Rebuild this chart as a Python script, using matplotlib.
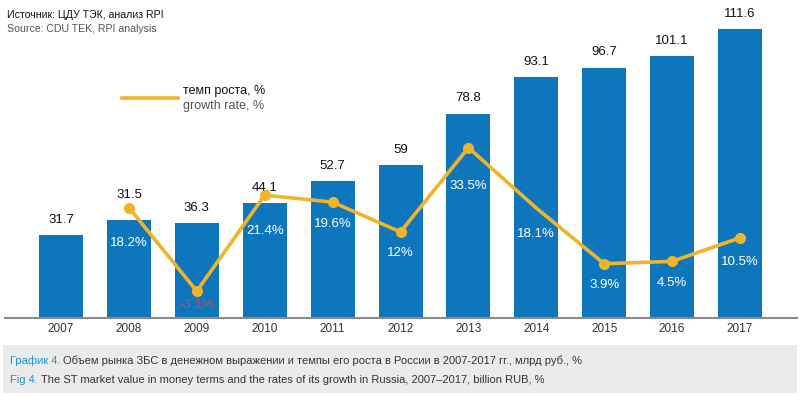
import matplotlib
matplotlib.use("Agg")
import matplotlib.pyplot as plt
from matplotlib.patches import Rectangle
from matplotlib.lines import Line2D

years = ["2007", "2008", "2009", "2010", "2011", "2012", "2013", "2014", "2015", "2016", "2017"]
market_value = [31.7, 37.5, 36.3, 44.1, 52.7, 59.0, 78.8, 93.1, 96.7, 101.1, 111.6]
value_labels = ["31.7", "31.5", "36.3", "44.1", "52.7", "59", "78.8", "93.1", "96.7", "101.1", "111.6"]
growth_years = ["2008", "2009", "2010", "2011", "2012", "2013", "2014", "2015", "2016", "2017"]
growth_rate = [18.2, -3.1, 21.4, 19.6, 12.0, 33.5, 18.1, 3.9, 4.5, 10.5]
growth_labels = ["18.2%", "-3.1%", "21.4%", "19.6%", "12%", "33.5%", "18.1%", "3.9%", "4.5%", "10.5%"]

BLUE = "#0e76bd"
ORANGE = "#f0b429"
FONT = ["Liberation Sans", "DejaVu Sans"]
plt.rcParams["font.family"] = FONT

W, H = 800, 396
fig = plt.figure(figsize=(W / 100, H / 100), dpi=100)

def fy(py):
    return 1 - py / H

base_px = 317
ax = fig.add_axes([0, fy(base_px), 1, base_px / H])
pitch = 67.9
x0 = 61
ax.set_xlim(-x0 / pitch, (W - x0) / pitch)
bar_scale = 2.58
ax.set_ylim(0, base_px / bar_scale)
ax.axis("off")

xs = list(range(len(years)))
ax.bar(xs, market_value, width=44 / pitch, color=BLUE, zorder=2)

# value labels above bars
for i, (v, lab) in enumerate(zip(market_value, value_labels)):
    extra = 7 if lab == "31.5" else 0
    ax.annotate(lab, (i, v), xytext=(0, 11 + extra), textcoords="offset points",
                ha="center", va="center", fontsize=9.5, color="#111111")

# line on twin axis
ax2 = fig.add_axes(ax.get_position(), sharex=ax)
ax2.patch.set_visible(False)
ax2.axis("off")
zero_px = 279
lscale = 3.92
ax2.set_ylim((zero_px - base_px) / lscale, zero_px / lscale)
gx = [years.index(y) for y in growth_years]
marks = [k for k, y in enumerate(growth_years) if y != "2014"]
ax2.plot(gx, growth_rate, color=ORANGE, lw=2.6, marker="o", ms=7,
         markevery=marks, zorder=5, solid_joinstyle="miter")

pct_dy = [35, 14, 36, 22, 21, 38, 26, 21, 22, 24]
for xi, v, lab, dy in zip(gx, growth_rate, growth_labels, pct_dy):
    col = "#b5545c" if v < 0 else "white"
    ax2.annotate(lab, (xi, v), xytext=(0, -dy * 0.72), textcoords="offset points",
                 ha="center", va="center", fontsize=9.5, color=col, zorder=6)

# baseline
fig.add_artist(Line2D([5 / W, 797 / W], [fy(317.5)] * 2, color="#8a8a8a", lw=1.5))

# year labels
for i, y in enumerate(years):
    fig.text((x0 + pitch * i) / W, fy(329), y, ha="center", va="center",
             fontsize=8.5, color="#333333")

# legend
fig.add_artist(Line2D([122 / W, 178 / W], [fy(98)] * 2, color=ORANGE, lw=2.6))
fig.text(183 / W, fy(91), "темп роста, %", ha="left", va="center", fontsize=9, color="#111111")
fig.text(183 / W, fy(106), "growth rate, %", ha="left", va="center", fontsize=9, color="#555555")

# source
fig.text(7 / W, fy(15), "Источник: ЦДУ ТЭК, анализ RPI", ha="left", va="center",
         fontsize=7.6, color="#111111")
fig.text(7 / W, fy(29), "Source: CDU TEK, RPI analysis", ha="left", va="center",
         fontsize=7.6, color="#555555")

# caption box
fig.add_artist(Rectangle((3 / W, fy(393)), 794 / W, 48 / H, transform=fig.transFigure,
                         facecolor="#ebebeb", edgecolor="none", zorder=0))
CAP_BLUE = "#1f8fd3"
CAP_FS = 8.0
t1 = fig.text(10 / W, fy(361), "График 4.", ha="left", va="center", fontsize=CAP_FS,
              color=CAP_BLUE)
fig.canvas.draw()
r = fig.canvas.get_renderer()
bb = t1.get_window_extent(r)
fig.text((bb.x1 + 3) / W, fy(361),
         "Объем рынка ЗБС в денежном выражении и темпы его роста в России в 2007-2017 гг., млрд руб., %",
         ha="left", va="center", fontsize=CAP_FS, color="#333333")
t2 = fig.text(10 / W, fy(380), "Fig 4.", ha="left", va="center", fontsize=CAP_FS,
              color=CAP_BLUE)
fig.canvas.draw()
bb = t2.get_window_extent(r)
fig.text((bb.x1 + 3) / W, fy(380),
         "The ST market value in money terms and the rates of its growth in Russia, 2007–2017, billion RUB, %",
         ha="left", va="center", fontsize=CAP_FS, color="#333333")

fig.savefig("out.png", dpi=100, facecolor="white")
